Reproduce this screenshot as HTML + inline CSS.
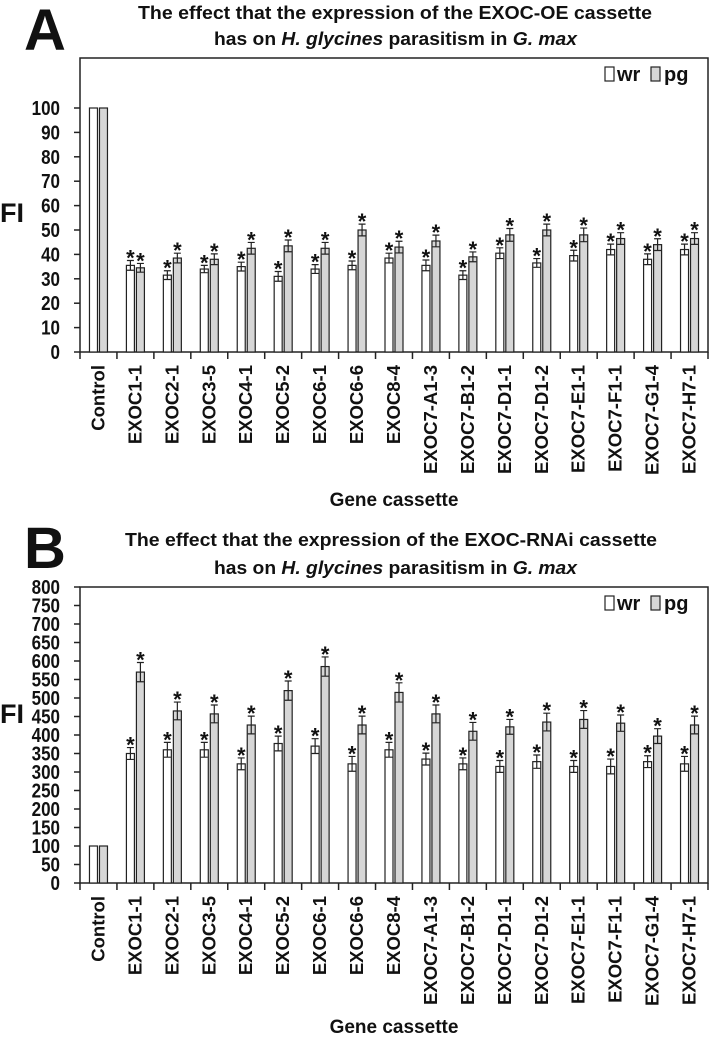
<!DOCTYPE html>
<html><head><meta charset="utf-8">
<style>
html,body{margin:0;padding:0;background:#fff;}
body{width:710px;height:1037px;overflow:hidden;}
svg text{font-family:"Liberation Sans",sans-serif;font-weight:bold;fill:#111;}
</style></head>
<body>
<svg id="fig" width="710" height="1037" viewBox="0 0 710 1037" xmlns="http://www.w3.org/2000/svg"></svg>
<script>
const categories=["Control","EXOC1-1","EXOC2-1","EXOC3-5","EXOC4-1","EXOC5-2","EXOC6-1","EXOC6-6","EXOC8-4","EXOC7-A1-3","EXOC7-B1-2","EXOC7-D1-1","EXOC7-D1-2","EXOC7-E1-1","EXOC7-F1-1","EXOC7-G1-4","EXOC7-H7-1"];
const aWr=[100,35.5,31.5,34,35,31,34,35.5,38.5,35.5,31.5,40.5,36.5,39.5,42,38,42];
const aPg=[100,34.5,38.5,38,42.5,43.5,42.5,50,43,45.5,39,48,50,48,46.5,44,46.5];
const aErrWr=[0,2,1.8,1.5,1.8,2,1.8,1.8,2,2.2,1.8,2.2,1.8,2.2,2.2,2.2,2.2];
const aErrPg=[0,1.8,2,2.2,2.4,2.4,2.4,2.4,2.4,2.4,2,2.6,2.4,2.8,2.4,2.4,2.4];
const aTicks=[0,10,20,30,40,50,60,70,80,90,100];
const bWr=[100,350,360,360,322,377,370,322,360,335,322,315,328,315,315,328,322];
const bPg=[100,570,465,457,427,520,585,427,515,457,410,422,435,442,432,397,427];
const bErrWr=[0,16,20,20,16,20,20,20,20,16,16,16,18,16,20,16,20];
const bErrPg=[0,26,24,24,24,26,26,24,26,24,24,20,24,24,22,20,24];
const bTicks=[0,50,100,150,200,250,300,350,400,450,500,550,600,650,700,750,800];

const NS="http://www.w3.org/2000/svg";
const svg=document.getElementById('fig');
function mk(tag,attrs,parent,txt){const e=document.createElementNS(NS,tag);for(const k in attrs)e.setAttribute(k,attrs[k]);if(txt!==undefined)e.textContent=txt;(parent||svg).appendChild(e);return e;}

function panel(o){
  const g=mk('g',{});
  
  
  const left=80,right=708,n=categories.length,step=(right-left)/n;
  const y=v=>o.y0-(v/o.max)*(o.y0-o.yMax);
  const xc=i=>left+step*(i+0.5);
  const L=mk('text',{x:24,y:o.letterY,'font-size':58},g,o.letter);
  
  
  const t1=mk('text',{x:o.t1x,y:o.t1y,'font-size':18,textLength:o.t1w,lengthAdjust:'spacingAndGlyphs'},g,o.title1);
  
  
  const t2=mk('text',{x:214,y:o.t2y,'font-size':18,textLength:363,lengthAdjust:'spacingAndGlyphs'},g);
  
  
  t2.innerHTML='has on <tspan font-style="italic">H. glycines</tspan> parasitism in <tspan font-style="italic">G. max</tspan>';
  const fr=mk('rect',{x:left,y:o.frameTop,width:right-left,height:o.y0-o.frameTop,fill:'none',stroke:'#222','stroke-width':1.5},g);
  
  
  o.ticks.forEach(t=>{
    const tk=mk('line',{x1:left-6,x2:left,y1:y(t),y2:y(t),stroke:'#222','stroke-width':1.5},g);
    
    
    const tl=mk('text',{x:60,y:y(t)+7,'text-anchor':'end','font-size':20,transform:`translate(60,0) scale(0.85,1) translate(-60,0)`},g,t);
    
    
  });
  const fi=mk('text',{x:0,y:o.fiY,'font-size':27},g,'FI');
  
  
  for(let i=0;i<=n;i++){
    const xt=mk('line',{x1:left+step*i,x2:left+step*i,y1:o.y0,y2:o.y0+7,stroke:'#222','stroke-width':1.5},g);
    
    
  }
  categories.forEach((c,i)=>{
    const cx=xc(i);
    [[o.wr,o.ew,'#fff',-9,'wr'],[o.pg,o.ep,'#d6d6d6',1,'pg']].forEach(([arr,err,fill,dx,s])=>{
      const v=arr[i],bx=cx+dx,bw=8;
      const b=mk('rect',{x:bx,y:y(v),width:bw,height:o.y0-y(v),fill:fill,stroke:'#222','stroke-width':1.2},g);
      
      
      if(err[i]>0){
        const mx=bx+bw/2,top=y(v+err[i]),bot=y(v-err[i]);
        const el=mk('path',{d:`M${mx},${bot}V${top}M${mx-3.5},${top}H${mx+3.5}M${mx-3.5},${bot}H${mx+3.5}`,stroke:'#222','stroke-width':1.2,fill:'none'},g);
        
        
        const st=mk('text',{x:mx,y:top+5,'text-anchor':'middle','font-size':22},g,'*');
        
        
      }
    });
    const lx=cx+6, ly=o.y0+13;
    const lab=mk('text',{x:lx,y:ly,'text-anchor':'end','font-size':18.5,'font-weight':i===0?'bold':'normal',transform:`rotate(-90 ${lx} ${ly})`},g,c);
    
    
  });
  const xt=mk('text',{x:394,y:o.xTitleY,'text-anchor':'middle','font-size':19},g,'Gene cassette');
  
  
  const lg=mk('g',{},g);
  
  
  const r1=mk('rect',{x:605,y:o.legY-7,width:9,height:14,fill:'#fff',stroke:'#222','stroke-width':1.2},lg);
  
  
  const l1=mk('text',{x:617,y:o.legY+7,'font-size':20},lg,'wr');
  
  
  const r2=mk('rect',{x:651,y:o.legY-7,width:9,height:14,fill:'#d6d6d6',stroke:'#222','stroke-width':1.2},lg);
  
  
  const l2=mk('text',{x:664,y:o.legY+7,'font-size':20},lg,'pg');
  
  
}
panel({name:'panel-a',letter:'A',letterY:50,title1:'The effect that the expression of the EXOC-OE cassette',t1x:138,t1w:514,t1y:19,t2y:45,
  frameTop:58,y0:352,yMax:108,max:100,ticks:aTicks,wr:aWr,pg:aPg,ew:aErrWr,ep:aErrPg,fiY:222,xTitleY:506,legY:74});
panel({name:'panel-b',letter:'B',letterY:568,title1:'The effect that the expression of the EXOC-RNAi cassette',t1x:125,t1w:532,t1y:546,t2y:574,
  frameTop:587,y0:883,yMax:587,max:800,ticks:bTicks,wr:bWr,pg:bPg,ew:bErrWr,ep:bErrPg,fiY:723,xTitleY:1033,legY:603});
</script>
</body></html>
